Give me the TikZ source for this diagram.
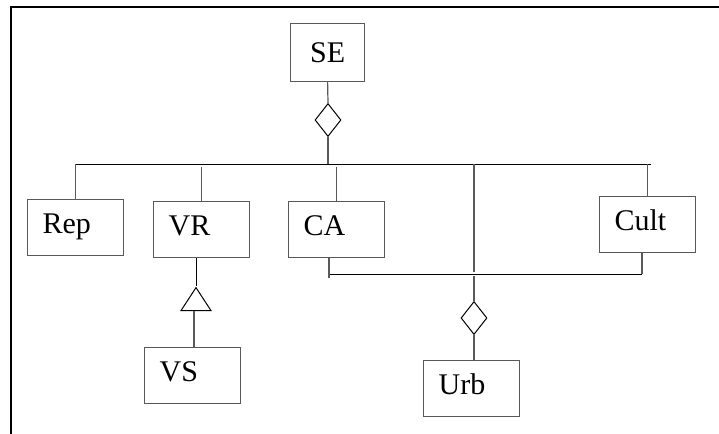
\documentclass[tikz,border=0pt]{standalone}
\usepackage{fontspec}
\setmainfont{Liberation Serif}
\usetikzlibrary{shapes.geometric,calc}
\definecolor{boxgray}{gray}{0.35}
\tikzset{
    entity/.style={draw=boxgray, line width=0.6pt, anchor=north west,
        inner xsep=7.5pt, inner ysep=0pt, text width=33pt, align=left,
        text height=17pt, text depth=11pt, font=\fontsize{15}{18}\selectfont},
    agg/.style={diamond, draw, line width=0.5pt, inner sep=0pt,
        minimum width=13pt, minimum height=16.5pt},
    isa/.style={isosceles triangle, isosceles triangle stretches,
        shape border rotate=90, draw, line width=0.5pt, inner sep=0pt,
        minimum width=15pt, minimum height=11.5pt},
    link/.style={draw=boxgray, line width=0.6pt},
    bus/.style={draw=black, line width=0.5pt},
    frame/.style={draw=black, line width=1.1pt}
}
\begin{document}
\begin{tikzpicture}[x=0.5pt, y=-0.5pt]
\useasboundingbox (0,0) rectangle (719,434);
\draw[frame] (11,434) -- (11,7) -- (719,7);
% entities
\node[entity, text width=27pt, inner xsep=5pt, align=center,
    text height=19.5pt, text depth=9.5pt] (SE) at (290,23) {SE};
\node[entity] (Rep) at (27,199) {Rep};
\node[entity] (VR) at (153,201) {VR};
\node[entity] (CA) at (288,201) {CA};
\node[entity] (Cult) at (599,196) {Cult};
\node[entity] (VS) at (144,347) {VS};
\node[entity] (Urb) at (423,360) {Urb};
% diamonds and triangle
\node[agg] (aggSE) at (328,120) {};
\node[agg] (aggUrb) at (474,318) {};
\node[isa] (isaVR) at (196,302.5) {};
\coordinate (busL) at (75,164);
\coordinate (busR) at (651,164);
\coordinate (lowL) at (329,274);
\coordinate (lowR) at (642,274);
% upper bus
\draw[link] (SE.south) -- (aggSE.north);
\draw[link] (aggSE.south) -- (aggSE.south |- busL);
\draw[bus] (busL) -- (busR);
\draw[link] (busL -| Rep.north) -- (Rep.north);
\draw[link] ($(busL -| VR.north)+(0,3)$) -- (VR.north);
\draw[link] ($(busL -| CA.north)+(0,3)$) -- (CA.north);
\draw[link] (busR -| Cult.north) -- (Cult.north);
% lower bus
\draw[bus] (lowL) -- (lowR);
\draw[link] (CA.south -| lowL) -- ($(lowL)+(0,4)$);
\draw[link] (Cult.south -| lowR) -- (lowR);
\draw[link] (busL -| aggUrb.north) -- ($(lowL -| aggUrb.north)+(0,-2)$);
\draw[link] ($(lowL -| aggUrb.north)+(0,2)$) -- (aggUrb.north);
\draw[link] (aggUrb.south) -- (aggUrb.south |- Urb.north);
% specialisation
\draw (isaVR.apex |- VR.south) -- (isaVR.apex);
\draw[link] ($(isaVR.lower side)+(-2,0)$) -- ($(isaVR.lower side |- VS.north)+(-2,0)$);
\end{tikzpicture}
\end{document}
